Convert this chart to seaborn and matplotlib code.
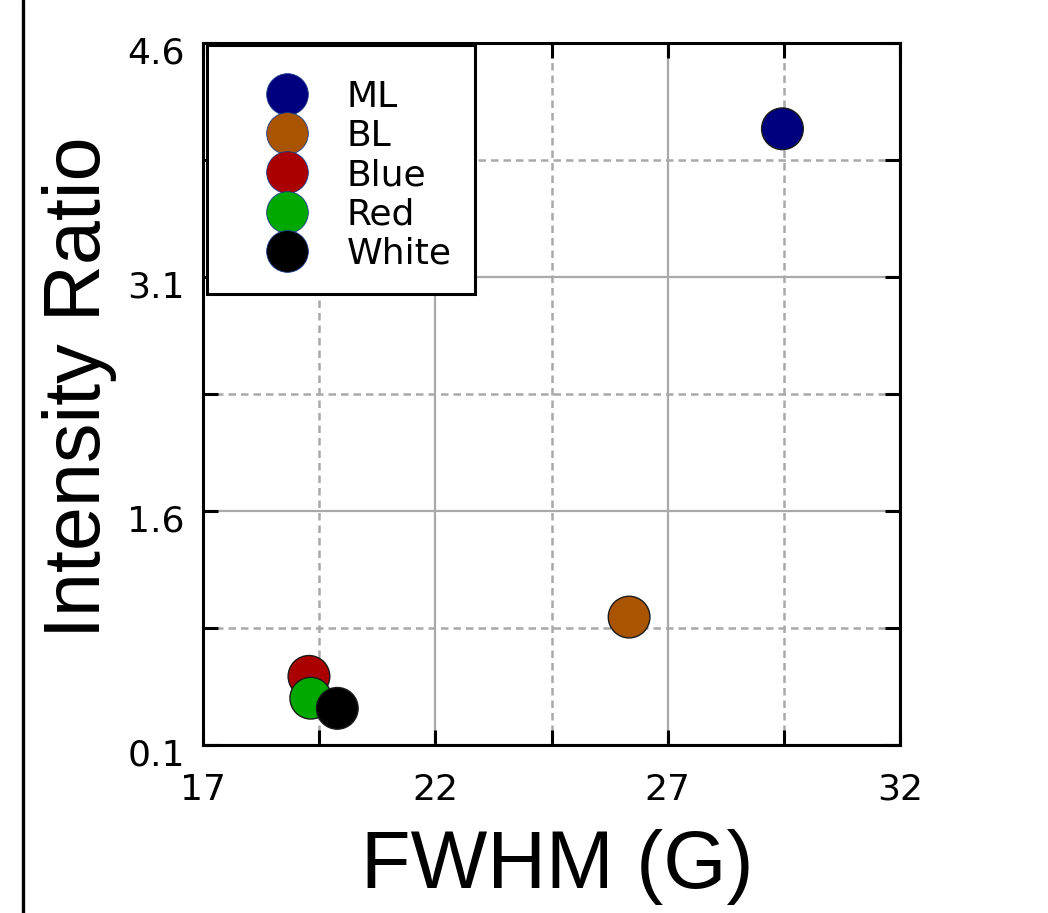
import matplotlib
matplotlib.use("Agg")
import matplotlib.pyplot as plt
from matplotlib.lines import Line2D
from matplotlib.transforms import ScaledTranslation
import seaborn as sns
import pandas as pd

# ---- data ----
samples = ["ML", "BL", "Blue", "Red", "White"]
fwhm = [29.47, 26.17, 19.28, 19.32, 19.89]
intensity_ratio = [4.05, 0.92, 0.54, 0.40, 0.335]
colors = ["#00007f", "#a95400", "#aa0000", "#00a800", "#000000"]
x_ticks = [17, 22, 27, 32]
x_minor = [19.5, 24.5, 29.5]
y_ticks = [0.1, 1.6, 3.1, 4.6]
y_minor = [0.85, 2.35, 3.85]

df = pd.DataFrame({"sample": samples, "FWHM": fwhm, "ratio": intensity_ratio})
palette = dict(zip(samples, colors))

sns.set_style("white")
plt.rcParams["font.family"] = ["DejaVu Sans"]
plt.rcParams["text.color"] = "black"
plt.rcParams["axes.labelcolor"] = "black"
plt.rcParams["xtick.color"] = "black"
plt.rcParams["ytick.color"] = "black"

fig = plt.figure(figsize=(10.48, 9.13), dpi=100)
ax = fig.add_axes([203 / 1048, 1 - 745 / 913, 697 / 1048, 702 / 913])

sns.scatterplot(data=df, x="FWHM", y="ratio", hue="sample", palette=palette,
                s=900, edgecolor="#1a1a1a", linewidth=1.0, legend=False,
                ax=ax, zorder=3)

ax.set_xlim(17, 32)
ax.set_ylim(0.1, 4.6)
ax.set_xticks(x_ticks)
ax.set_xticks(x_minor, minor=True)
ax.set_yticks(y_ticks)
ax.set_yticks(y_minor, minor=True)
ax.set_xticklabels([str(v) for v in x_ticks])
ax.set_yticklabels([f"{v:.1f}" for v in y_ticks])

ax.grid(which="major", color="#a9a9a9", linewidth=1.6, linestyle="-", zorder=0)
ax.grid(which="minor", color="#a9a9a9", linewidth=1.8, linestyle=(0, (3, 2)), zorder=0)
ax.set_axisbelow(True)

for s in ax.spines.values():
    s.set_visible(True)
    s.set_color("black")
    s.set_linewidth(2.2)

ax.tick_params(which="both", direction="in", length=11, width=2.2, color="black",
               labelcolor="black", top=True, right=True, bottom=True, left=True)
ax.tick_params(axis="y", which="major", labelsize=26, pad=13)
ax.tick_params(axis="x", which="major", labelsize=26, pad=20)

# y tick labels sit slightly below their ticks in the reference
shift = ScaledTranslation(0, -5 / 72, fig.dpi_scale_trans)
for lbl in ax.get_yticklabels():
    lbl.set_transform(lbl.get_transform() + shift)

ax.set_xlabel("FWHM (G)", fontsize=58.5, family=["Liberation Sans", "DejaVu Sans"])
ax.set_ylabel("Intensity Ratio", fontsize=57, family=["Liberation Sans", "DejaVu Sans"])
ax.xaxis.set_label_coords(0.508, -0.174)
ax.xaxis.label.set_verticalalignment("center")
ax.yaxis.set_label_coords(-0.1765, 0.51)
ax.yaxis.label.set_verticalalignment("center")

handles = [Line2D([], [], marker="o", linestyle="none", markersize=30,
                  markerfacecolor=palette[s], markeredgecolor="#1a3a8a",
                  markeredgewidth=0.6, label=s) for s in samples]
leg = ax.legend(handles=handles, loc="upper left", bbox_to_anchor=(0.006, 0.997),
                borderaxespad=0, fontsize=26, frameon=True, fancybox=False,
                edgecolor="black", framealpha=1, borderpad=0.66, handlelength=3.1,
                handletextpad=0.1, labelspacing=0.14, title=" ", title_fontsize=5)
leg.get_frame().set_linewidth(2.2)
leg.set_zorder(5)

# left frame line of the figure
fig.add_artist(Line2D([23 / 1048, 23 / 1048], [0, 1], transform=fig.transFigure,
                      color="black", linewidth=2.4))

fig.savefig("out.png", dpi=100)
